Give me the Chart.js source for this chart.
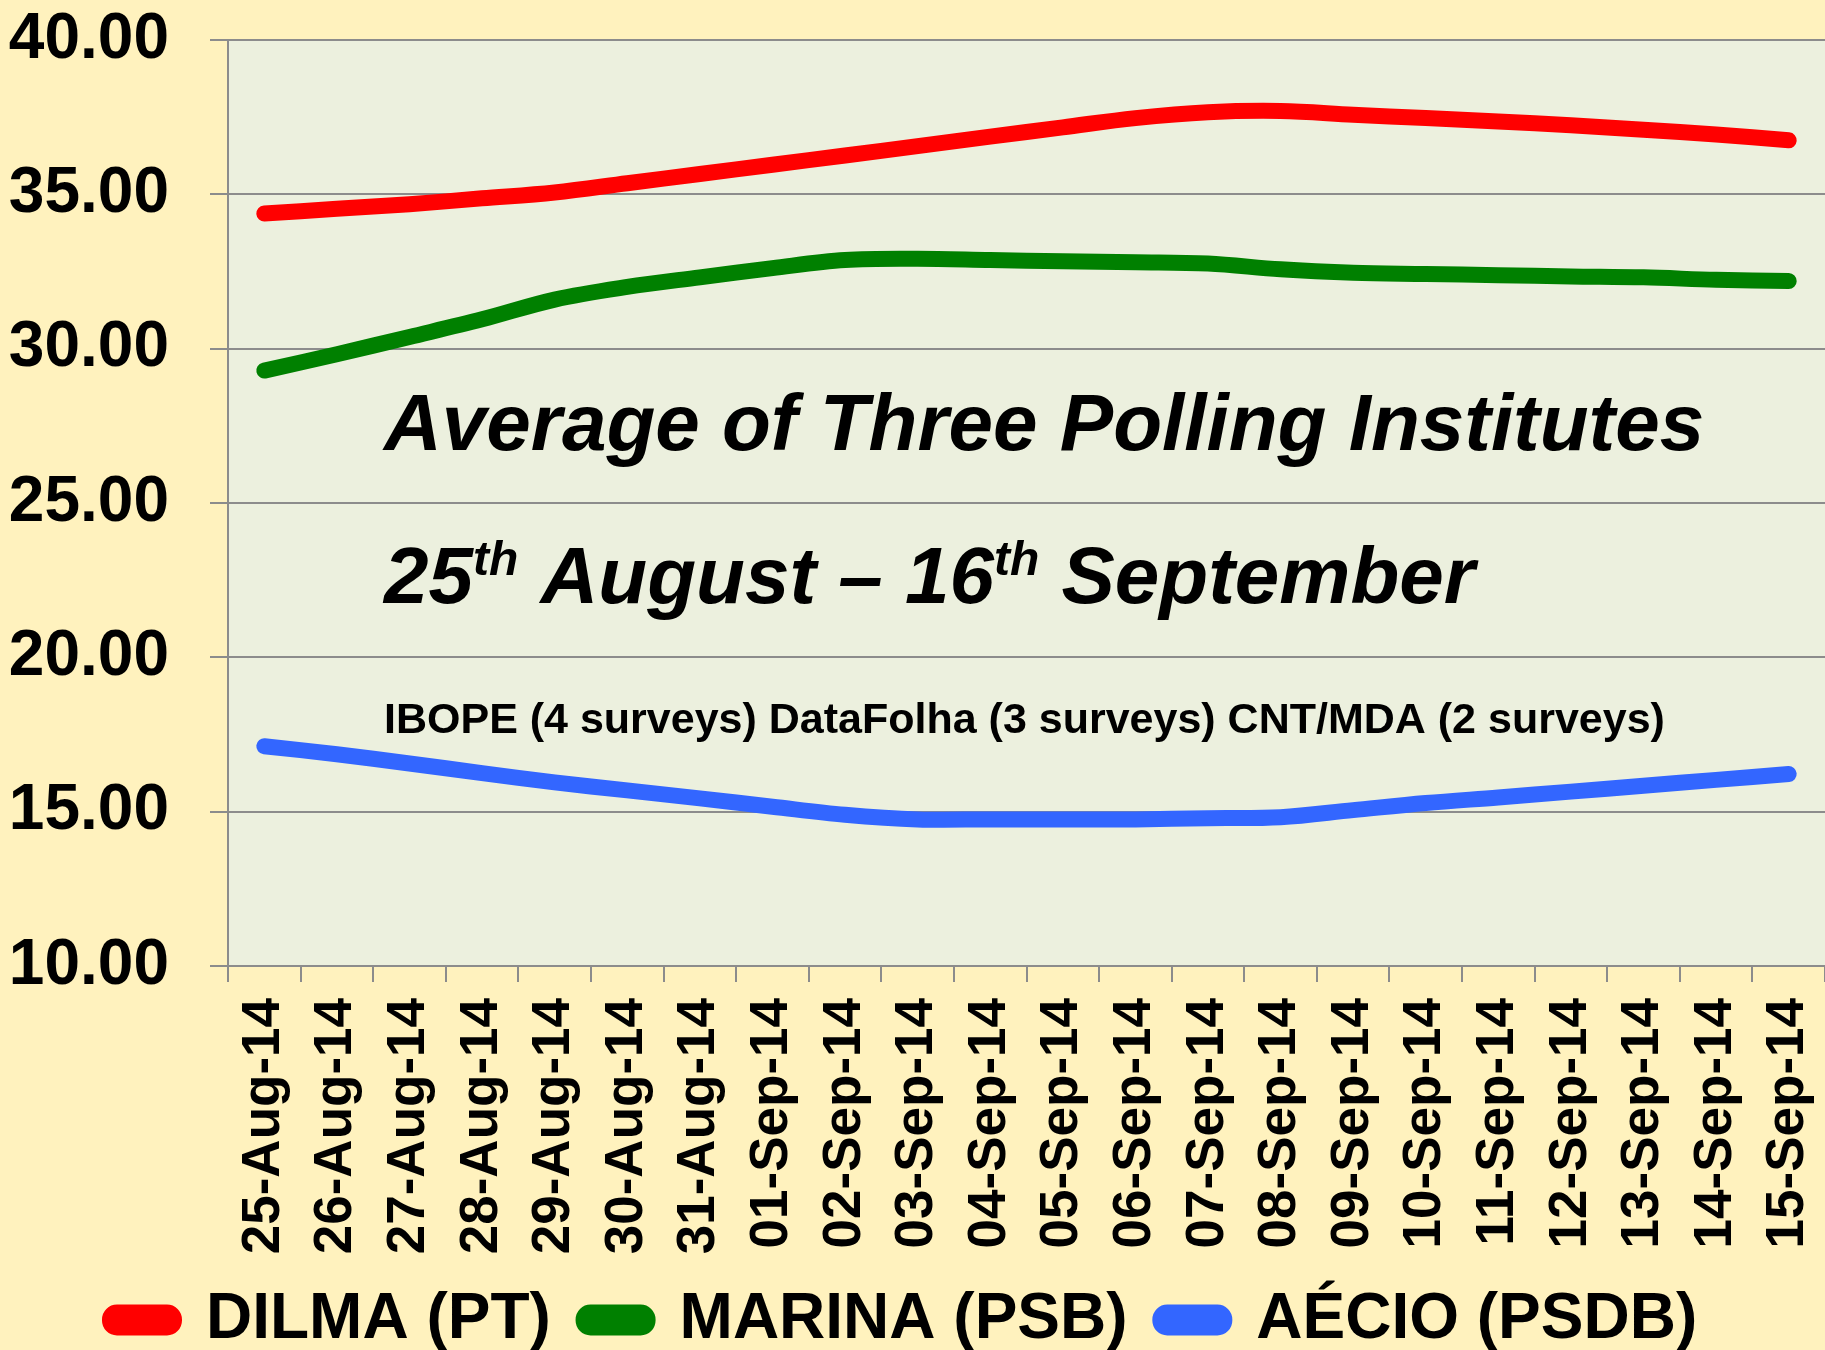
<!DOCTYPE html>
<html>
<head>
<meta charset="utf-8">
<title>Average of Three Polling Institutes</title>
<script src="https://cdn.jsdelivr.net/npm/chart.js@4.4.1/dist/chart.umd.min.js"></script>
<style>
    html, body { margin: 0; padding: 0; background: #FFF2BE; }
    #pollChart { display: block; }
</style>
</head>
<body>
<canvas id="pollChart" width="1825" height="1350"></canvas>
<script>
const dates = [
    "25-Aug-14", "26-Aug-14", "27-Aug-14", "28-Aug-14", "29-Aug-14", "30-Aug-14", "31-Aug-14",
    "01-Sep-14", "02-Sep-14", "03-Sep-14", "04-Sep-14", "05-Sep-14", "06-Sep-14", "07-Sep-14",
    "08-Sep-14", "09-Sep-14", "10-Sep-14", "11-Sep-14", "12-Sep-14", "13-Sep-14", "14-Sep-14",
    "15-Sep-14"
];

const dilma = [34.38, 34.53, 34.68, 34.87, 35.06, 35.36, 35.66, 35.96, 36.26, 36.56, 36.87,
    37.17, 37.47, 37.66, 37.70, 37.58, 37.47, 37.36, 37.24, 37.09, 36.94, 36.75];
const marina = [29.29, 29.82, 30.38, 30.95, 31.59, 32.00, 32.31, 32.61, 32.87, 32.91, 32.87,
    32.83, 32.80, 32.76, 32.57, 32.46, 32.42, 32.38, 32.34, 32.31, 32.23, 32.19];
const aecio = [17.12, 16.86, 16.56, 16.25, 15.95, 15.69, 15.43, 15.16, 14.90, 14.75, 14.75,
    14.75, 14.75, 14.79, 14.82, 15.05, 15.28, 15.46, 15.65, 15.84, 16.03, 16.22];

const seriesNames = ["DILMA (PT)", "MARINA (PSB)", "AÉCIO (PSDB)"];
const seriesColors = ["#FF0000", "#008000", "#3366FF"];

const yMin = 10;
const yMax = 40;
const yStep = 5;

const FONT = "'Liberation Sans', Arial, sans-serif";
const GRID = "#8C8C8C";

// plot area background and the page colour behind it
const backgroundPlugin = {
    id: "backgrounds",
    beforeDraw(chart) {
        const { ctx, chartArea } = chart;
        ctx.save();
        ctx.fillStyle = "#FFF2BE";
        ctx.fillRect(0, 0, chart.width, chart.height);
        ctx.fillStyle = "#ECF0DE";
        ctx.fillRect(chartArea.left, chartArea.top, chartArea.right - chartArea.left, chartArea.bottom - chartArea.top);
        ctx.restore();
    }
};

// the three lines of text inside the plot
const notesPlugin = {
    id: "notes",
    afterDatasetsDraw(chart) {
        const { ctx, chartArea } = chart;
        const x0 = chartArea.left + 156;
        ctx.save();
        ctx.fillStyle = "#000";
        ctx.textBaseline = "alphabetic";
        ctx.textAlign = "left";

        ctx.font = "italic bold 80px " + FONT;
        ctx.fillText("Average of Three Polling Institutes", x0, chartArea.top + 410);

        const base = chartArea.top + 563;
        const parts = [
            ["25", false], ["th", true], [" August \u2013 16", false], ["th", true], [" September", false]
        ];
        let x = x0;
        parts.forEach(([txt, sup]) => {
            ctx.font = sup ? "italic bold 48px " + FONT : "italic bold 80px " + FONT;
            ctx.fillText(txt, x, sup ? base - 28 : base);
            x += ctx.measureText(txt).width;
        });

        ctx.font = "bold 43px " + FONT;
        ctx.fillText("IBOPE (4 surveys) DataFolha (3 surveys) CNT/MDA (2 surveys)", x0, chartArea.top + 693);
        ctx.restore();
    }
};

function makeDataset(label, data, color) {
    return {
        label: label,
        data: data,
        borderColor: color,
        backgroundColor: color,
        borderWidth: 16,
        borderCapStyle: "round",
        borderJoinStyle: "round",
        pointRadius: 0,
        pointHoverRadius: 0,
        tension: 0.35,
        fill: false,
        clip: false
    };
}

const ctx = document.getElementById("pollChart").getContext("2d");

const pollChart = new Chart(ctx, {
    type: "line",
    data: {
        labels: dates,
        datasets: [
            makeDataset(seriesNames[0], dilma, seriesColors[0]),
            makeDataset(seriesNames[1], marina, seriesColors[1]),
            makeDataset(seriesNames[2], aecio, seriesColors[2])
        ]
    },
    options: {
        responsive: false,
        animation: false,
        devicePixelRatio: 1,
        layout: { padding: { top: 40, left: 0, right: 0, bottom: -12 } },
        plugins: {
            tooltip: { enabled: false },
            legend: {
                position: "bottom",
                labels: {
                    color: "#000",
                    font: { family: FONT, size: 64, weight: "bold" },
                    boxWidth: 64,
                    boxHeight: 15,
                    useBorderRadius: true,
                    borderRadius: 7,
                    padding: 15,
                    // a trailing space widens the gap between entries
                    generateLabels(chart) {
                        const items = Chart.defaults.plugins.legend.labels.generateLabels(chart);
                        items.forEach((it) => { it.text = it.text + " "; });
                        return items;
                    }
                }
            }
        },
        scales: {
            x: {
                offset: true,
                grid: {
                    offset: true,
                    drawOnChartArea: false,
                    drawTicks: true,
                    tickLength: 16,
                    color: GRID,
                    lineWidth: 2
                },
                border: { color: GRID, width: 2 },
                ticks: {
                    autoSkip: false,
                    minRotation: 90,
                    maxRotation: 90,
                    padding: 16,
                    color: "#000",
                    font: { family: FONT, size: 53, weight: "bold" }
                },
                afterFit(scale) {
                    scale.height = 307;
                    scale.paddingLeft = 0;
                    scale.paddingRight = 0;
                }
            },
            y: {
                min: yMin,
                max: yMax,
                grid: {
                    color: GRID,
                    lineWidth: 2,
                    tickLength: 18
                },
                border: { color: GRID, width: 2 },
                ticks: {
                    stepSize: yStep,
                    padding: 41,
                    color: "#000",
                    font: { family: FONT, size: 64, weight: "bold" },
                    callback: (v) => Number(v).toFixed(2)
                },
                afterFit(scale) {
                    scale.width = 228;
                    scale.paddingTop = 0;
                    scale.paddingBottom = 0;
                }
            }
        }
    },
    plugins: [backgroundPlugin, notesPlugin]
});
</script>
</body>
</html>
